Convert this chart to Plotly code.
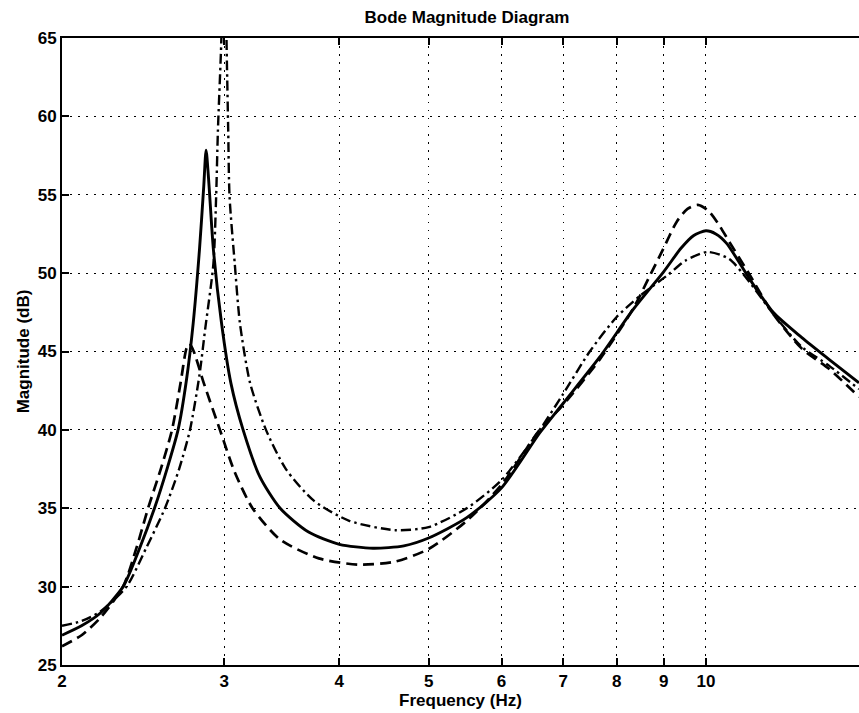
import numpy as np
import plotly.graph_objects as go

# ---- data (frequency in Hz, magnitude in dB) ----
f_solid = [2.0, 2.1, 2.2, 2.33, 2.43, 2.52, 2.6, 2.673, 2.73, 2.776, 2.82, 2.85, 2.867,
           2.885, 2.92, 2.98, 3.05, 3.145, 3.28, 3.45, 3.7, 4.0, 4.35, 4.7, 5.0, 5.5,
           6.0, 6.6, 7.0, 7.67, 8.33, 9.0, 9.4, 9.7, 10.0, 10.25, 10.53, 11.16, 11.83, 12.7, 13.6, 14.66]
m_solid = [26.9, 27.5, 28.3, 30.0, 32.5, 35.0, 37.5, 40.0, 43.2, 46.8, 51.5, 55.5, 57.85,
           56.0, 51.5, 46.8, 43.0, 40.0, 37.0, 35.0, 33.5, 32.7, 32.45, 32.6, 33.1, 34.4,
           36.3, 39.8, 41.7, 44.65, 47.65, 50.1, 51.6, 52.4, 52.7, 52.5, 51.9, 49.6, 47.5, 45.9, 44.5, 43.0]

f_dash = [2.0, 2.1, 2.2, 2.33, 2.41, 2.48, 2.56, 2.633, 2.69, 2.73, 2.75, 2.78, 2.85,
          2.968, 3.08, 3.22, 3.45, 3.8, 4.2, 4.6, 5.0, 5.5, 6.0, 6.6, 7.0, 7.67, 8.33,
          8.72, 8.98, 9.3, 9.55, 9.8, 10.05, 10.3, 10.6, 11.1, 11.83, 12.7, 13.6, 14.66]
m_dash = [26.2, 26.9, 28.0, 30.0, 32.5, 35.0, 37.5, 40.0, 43.0, 45.2, 45.5, 45.0, 43.0,
          40.0, 37.3, 35.0, 33.0, 31.8, 31.4, 31.6, 32.4, 34.2, 36.5, 40.0, 41.6, 44.5, 47.7,
          50.0, 51.5, 53.3, 54.1, 54.35, 54.0, 53.2, 52.0, 50.1, 47.4, 45.2, 43.9, 42.1]

f_dashdot = [2.0, 2.1, 2.2, 2.35, 2.47, 2.587, 2.68, 2.754, 2.82, 2.86, 2.92, 2.94, 2.953,
             2.975, 2.99, 3.0, 3.01, 3.02, 3.03, 3.04, 3.08, 3.12, 3.2, 3.33, 3.5, 3.75,
             4.1, 4.6, 5.0, 5.5, 6.0, 6.6, 7.0, 7.48, 8.0, 8.5, 9.1, 9.5, 10.05, 10.6,
             11.16, 11.83, 12.7, 13.6, 14.66]
m_dashdot = [27.5, 27.8, 28.4, 30.0, 32.5, 35.0, 37.5, 40.0, 43.5, 46.4, 50.6, 54.9, 59.1,
             64.0, 68.0, 70.0, 68.0, 63.5, 59.1, 54.9, 50.6, 46.8, 43.0, 40.0, 37.5, 35.5,
             34.2, 33.6, 33.8, 35.0, 36.8, 40.0, 42.3, 45.0, 47.2, 48.6, 49.9, 50.8, 51.35, 50.9,
             49.4, 47.4, 45.3, 44.1, 42.6]

x_ticks = [2, 3, 4, 5, 6, 7, 8, 9, 10]
y_ticks = [25, 30, 35, 40, 45, 50, 55, 60, 65]

FONT = "Liberation Sans, Arial, Helvetica, sans-serif"

fig = go.Figure()
fig.add_trace(go.Scatter(x=f_dash, y=m_dash, mode="lines",
                         line=dict(color="black", width=2.7, dash="11px,6px", shape="spline", smoothing=0.7)))
fig.add_trace(go.Scatter(x=f_dashdot, y=m_dashdot, mode="lines",
                         line=dict(color="black", width=2.4, dash="10px,4px,2.5px,4px", shape="spline", smoothing=0.7)))
fig.add_trace(go.Scatter(x=f_solid, y=m_solid, mode="lines",
                         line=dict(color="black", width=2.9, shape="spline", smoothing=0.7)))

fig.update_layout(
    width=859, height=713,
    margin=dict(l=62, r=0, t=38, b=48),
    paper_bgcolor="white", plot_bgcolor="white",
    showlegend=False,
    font=dict(family=FONT, size=17, color="black", weight="bold"),
    title=dict(text="Bode Magnitude Diagram", x=467 / 859, xref="container", xanchor="center",
               y=1 - 17 / 713, yref="container", yanchor="middle",
               font=dict(family=FONT, size=17, color="black", weight="bold")),
)
fig.update_xaxes(
    type="log", range=[np.log10(2), np.log10(14.66)],
    tickvals=x_ticks, ticktext=[str(v) for v in x_ticks],
    ticks="inside", ticklen=7, tickwidth=2, tickcolor="black",
    showline=True, linewidth=2, linecolor="black", mirror="ticks",
    showgrid=True, gridcolor="black", gridwidth=1, griddash="1.5px,6.5px",
    zeroline=False,
    tickfont=dict(family=FONT, size=17, color="black", weight="bold"),
    title=dict(text="Frequency (Hz)", standoff=2,
               font=dict(family=FONT, size=17, color="black", weight="bold")),
)
fig.update_yaxes(
    range=[25, 65], tickvals=y_ticks,
    ticks="inside", ticklen=7, tickwidth=2, tickcolor="black",
    showline=True, linewidth=2, linecolor="black",
    showgrid=True, gridcolor="black", gridwidth=1, griddash="1.5px,6.5px",
    zeroline=False,
    tickfont=dict(family=FONT, size=17, color="black", weight="bold"),
    title=dict(text="Magnitude (dB)", standoff=4,
               font=dict(family=FONT, size=17, color="black", weight="bold")),
)

fig.write_html("out.html")
